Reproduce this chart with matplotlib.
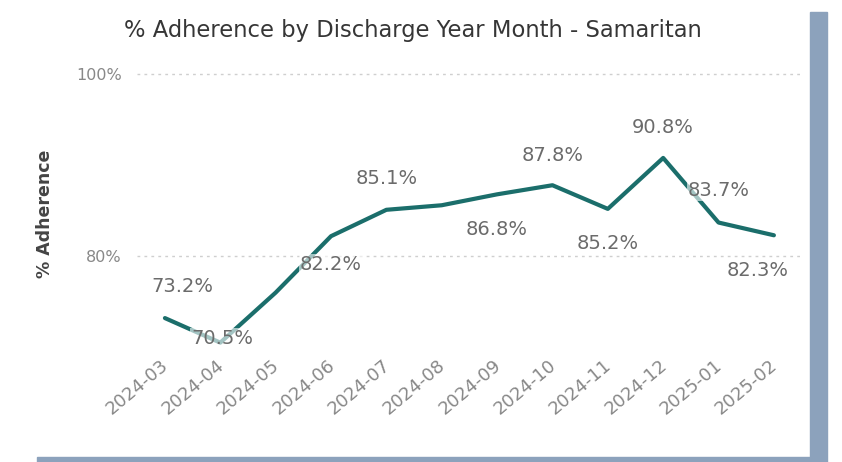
import matplotlib.pyplot as plt
from matplotlib.patches import Rectangle

months = ["2024-03", "2024-04", "2024-05", "2024-06", "2024-07", "2024-08",
          "2024-09", "2024-10", "2024-11", "2024-12", "2025-01", "2025-02"]
adherence = [73.2, 70.5, 76.0, 82.2, 85.1, 85.6, 86.8, 87.8, 85.2, 90.8, 83.7, 82.3]
# which points carry a data label (2024-05 and 2024-08 have none in the original)
labelled = [True, True, False, True, True, False, True, True, True, True, True, True]
# label offsets in pixels (dx, dy), dy positive = above
offsets = [(17, 32), (2, 4), (0, 0), (0, -28), (0, 31), (0, 0),
           (0, -35), (0, 30), (0, -35), (0, 30), (0, 32), (-16, -35)]
yticks = [80, 100]

fig = plt.figure(figsize=(8.42, 4.62), dpi=100)
ax = fig.add_axes([0.163, 0.242, 0.789, 0.606])

x = list(range(len(months)))
ax.plot(x, adherence, color="#1b6e6b", lw=3.0, solid_capstyle="round",
        solid_joinstyle="round", zorder=2)

for i in x:
    if not labelled[i]:
        continue
    dx, dy = offsets[i]
    ax.annotate("%.1f%%" % adherence[i], (i, adherence[i]), xytext=(dx, dy),
                textcoords="offset pixels", ha="center", va="center",
                fontsize=14, color="#6b6b6b", zorder=3,
                bbox=dict(boxstyle="square,pad=0.05", fc="white", ec="none", alpha=0.6))

ax.set_xlim(-0.5, 11.5)
ax.set_ylim(69.67, 100.44)
ax.set_yticks(yticks)
ax.set_yticklabels(["%d%%" % v for v in yticks], fontsize=11.5)
ax.set_xticks(x)
ax.set_xticklabels(months, rotation=40, ha="right", va="center_baseline",
                   rotation_mode="anchor", fontsize=13)
ax.tick_params(axis="both", length=0, colors="#888888")
ax.tick_params(axis="y", pad=11)
ax.tick_params(axis="x", pad=8)
for s in ax.spines.values():
    s.set_visible(False)
ax.grid(axis="y", linestyle=(0, (2, 3)), color="#cfcfcf", lw=1)
ax.set_axisbelow(True)

fig.text(0.49, 0.935, "% Adherence by Discharge Year Month - Samaritan",
         ha="center", va="center", fontsize=16.3, color="#363636")
fig.text(0.053, 0.537, "% Adherence", rotation=90, ha="center", va="center",
         fontsize=12.5, fontweight="bold", color="#444444")

# frame bars on the right and bottom
fig.patches.append(Rectangle((0.962, 0.0), 0.020, 0.974, transform=fig.transFigure,
                             color="#8ca2bc", zorder=0))
fig.patches.append(Rectangle((0.044, 0.0), 0.92, 0.011, transform=fig.transFigure,
                             color="#8ca2bc", zorder=0))

plt.savefig("out.png", dpi=100)
